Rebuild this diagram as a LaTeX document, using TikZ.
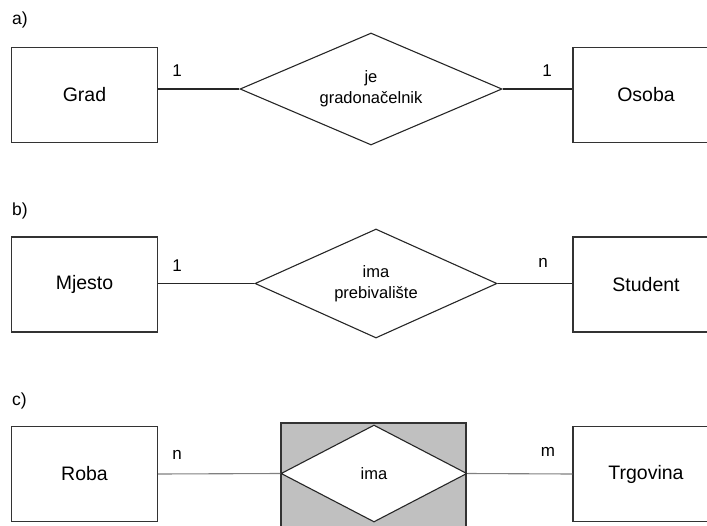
\documentclass[tikz,border=0pt]{standalone}
\usepackage{fontspec}
\setmainfont{Liberation Sans}
\usetikzlibrary{shapes.geometric}
\begin{document}
\begin{tikzpicture}[x=1pt,y=-1pt,
  entity/.style={draw=black!80, line width=1.1pt, minimum width=146pt, minimum height=95pt, inner sep=0pt, font=\fontsize{19.5}{23}\selectfont},
  relship/.style={diamond, draw=black!85, line width=1.1pt, inner sep=0pt, align=center, font=\fontsize{16.5}{21}\selectfont},
  conn/.style={draw=black!85, line width=1.1pt},
  lbl/.style={inner sep=0pt, font=\fontsize{17}{20}\selectfont},
  part/.style={inner sep=0pt, anchor=west, font=\fontsize{17.5}{20}\selectfont}]
\useasboundingbox (0,0) rectangle (707,525);
% a)
\node[part] (pa) at (12,20) {a)};
\node[entity] (grad) at (84.5,95) {Grad};
\node[entity] (osoba) at (646,95) {Osoba};
\node[relship, aspect=2.34, minimum width=262pt, minimum height=112pt] (ra) at (371,89) {je\\gradonačelnik};
\draw[conn] (ra.west) -- (ra.west -| grad.east);
\draw[conn] (ra.east) -- (ra.east -| osoba.west);
\node[lbl] (la1) at (177,71) {1};
\node[lbl] (la2) at (547,71) {1};
% b)
\node[part] (pb) at (12,211) {b)};
\node[entity] (mjesto) at (84.5,284.5) {Mjesto};
\node[entity] (student) at (646,284.5) {Student};
\node[relship, aspect=2.22, minimum width=242pt, minimum height=109pt] (rb) at (376,283.5) {ima\\prebivalište};
\draw[conn] (rb.west) -- (rb.west -| mjesto.east);
\draw[conn] (rb.east) -- (rb.east -| student.west);
\node[lbl] (lb1) at (177,266) {1};
\node[lbl] (lb2) at (543,263) {n};
% c)
\node[part] (pc) at (12,401) {c)};
\node[entity] (roba) at (84.5,474) {Roba};
\node[entity] (trgovina) at (646,474) {Trgovina};
\fill[fill={rgb,255:red,192;green,192;blue,192}, draw=black!80, line width=1.1pt] (281,423) rectangle (466,535);
\node[relship, fill=white, aspect=1.92, minimum width=186pt, minimum height=97pt] (rc) at (374,473.5) {ima};
\draw[conn, draw=black!50] (roba.east) -- (rc.west);
\draw[conn, draw=black!50] (rc.east) -- (trgovina.west);
\node[lbl] (lc1) at (177,455) {n};
\node[lbl] (lc2) at (548,452) {m};
\end{tikzpicture}
\end{document}
